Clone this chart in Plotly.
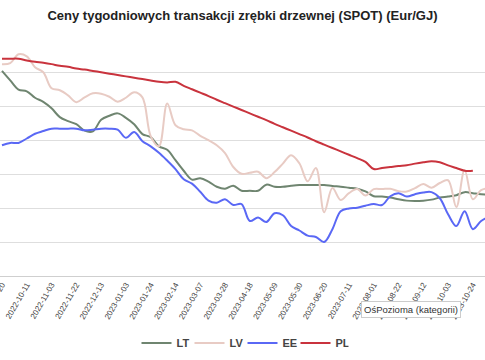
import pandas as pd
import plotly.graph_objects as go

# categories: weekly dates (one week reported on a Thursday)
dates = pd.date_range("2022-09-20", periods=60, freq="7D").strftime("%Y-%m-%d").tolist()
dates[6] = "2022-11-03"
categories = dates

LT = [8.04, 7.76, 7.49, 7.44, 7.25, 7.13, 6.94, 6.68, 6.56, 6.47,
      6.28, 6.26, 6.60, 6.72, 6.79, 6.66, 6.47, 6.18, 6.09, 5.82,
      5.72, 5.41, 5.10, 4.84, 4.88, 4.78, 4.63, 4.57, 4.66, 4.51,
      4.51, 4.51, 4.69, 4.63, 4.63, 4.66, 4.68, 4.68, 4.68, 4.68,
      4.65, 4.63, 4.60, 4.57, 4.49, 4.35, 4.34, 4.31, 4.26, 4.22,
      4.21, 4.22, 4.25, 4.31, 4.34, 4.38, 4.47, 4.44, 4.41, 4.40]

LV = [8.24, 8.27, 8.53, 8.47, 8.15, 8.00, 7.53, 7.47, 7.32, 7.12,
      7.26, 7.38, 7.37, 7.28, 7.13, 7.25, 7.41, 7.26, 6.12, 5.82,
      7.08, 6.44, 6.32, 6.29, 6.13, 6.00, 5.85, 5.62, 5.21, 5.01,
      5.04, 5.07, 4.88, 5.06, 5.31, 5.56, 5.32, 4.79, 5.18, 3.88,
      4.59, 4.24, 4.44, 4.56, 4.37, 4.56, 4.56, 4.57, 4.50, 4.49,
      4.59, 4.71, 4.60, 4.74, 4.82, 4.03, 5.12, 4.26, 4.53, 4.59]

EE = [5.85, 5.92, 5.92, 6.05, 6.19, 6.27, 6.34, 6.34, 6.34, 6.34,
      6.29, 6.31, 6.34, 6.34, 6.31, 6.07, 6.24, 5.97, 5.82, 5.63,
      5.40, 5.15, 4.85, 4.72, 4.48, 4.22, 4.16, 4.26, 4.09, 4.12,
      3.62, 3.72, 3.59, 3.85, 3.79, 3.47, 3.34, 3.19, 3.15, 3.00,
      3.38, 3.91, 3.99, 4.01, 4.07, 4.12, 4.09, 4.35, 4.44, 4.34,
      4.41, 4.46, 4.47, 4.29, 3.82, 3.47, 3.91, 3.38, 3.62, 3.76]

PL = [8.40, 8.40, 8.40, 8.35, 8.31, 8.28, 8.24, 8.19, 8.16, 8.11,
      8.08, 8.04, 8.00, 7.96, 7.92, 7.88, 7.84, 7.80, 7.76, 7.72,
      7.70, 7.72, 7.60, 7.50, 7.40, 7.30, 7.19, 7.09, 6.99, 6.89,
      6.79, 6.69, 6.59, 6.48, 6.38, 6.28, 6.18, 6.08, 5.97, 5.87,
      5.77, 5.67, 5.57, 5.47, 5.36, 5.15, 5.18, 5.21, 5.24, 5.26,
      5.31, 5.35, 5.38, 5.35, 5.26, 5.18, 5.10, 5.10, None, None]

series = [("LT", LT, "#6f8570"), ("LV", LV, "#e8cbc4"),
          ("EE", EE, "#5a68f5"), ("PL", PL, "#c9333d")]

fig = go.Figure()
for name, vals, col in series:
    fig.add_trace(go.Scatter(x=categories, y=vals, name=name, mode="lines",
                             line=dict(color=col, width=2, shape="spline", smoothing=1),
                             connectgaps=False))

fig.update_layout(
    width=485, height=360,
    margin=dict(l=0, r=0, t=38, b=84, autoexpand=False),
    paper_bgcolor="white", plot_bgcolor="white",
    font=dict(family="Liberation Sans, Arial, sans-serif", color="#444"),
    title=dict(text="<b>Ceny tygodniowych transakcji zrębki drzewnej (SPOT) (Eur/GJ)</b>",
               x=0.5, xanchor="center", y=(360 - 15) / 360, yanchor="middle", yref="container",
               font=dict(size=13, color="#222")),
    legend=dict(orientation="h", x=0.5, xanchor="center", y=(276 - 343) / 238, yanchor="middle",
                font=dict(size=11, color="#444", weight="bold"), itemwidth=30,
                entrywidth=8, entrywidthmode="pixels",
                bgcolor="rgba(0,0,0,0)"),
    showlegend=True,
)
fig.update_xaxes(type="category", range=[-0.24, 58.47], automargin=False,
                 tickmode="array", tickvals=categories[::3], ticktext=categories[::3],
                 tickangle=-60, tickfont=dict(size=8, color="#444"),
                 showgrid=False, showline=True, linecolor="#cfcfcf", linewidth=1,
                 ticks="", fixedrange=True)
fig.update_yaxes(range=[2, 9.01], dtick=1, tick0=2, showticklabels=False, automargin=False,
                 showgrid=True, gridcolor="#dedede", gridwidth=1, zeroline=False,
                 fixedrange=True)

fig.add_annotation(text="OśPozioma (kategorii)", xref="paper", yref="paper",
                   x=411 / 485, y=(276 - 309) / 238, xanchor="center", yanchor="middle",
                   showarrow=False, font=dict(size=9.5, color="#333"),
                   bgcolor="white", bordercolor="#cccccc", borderwidth=1, borderpad=2)

fig.write_html("out.html", config={"displayModeBar": False},
               post_script="document.body.style.margin='0';document.body.style.overflow='hidden';")
